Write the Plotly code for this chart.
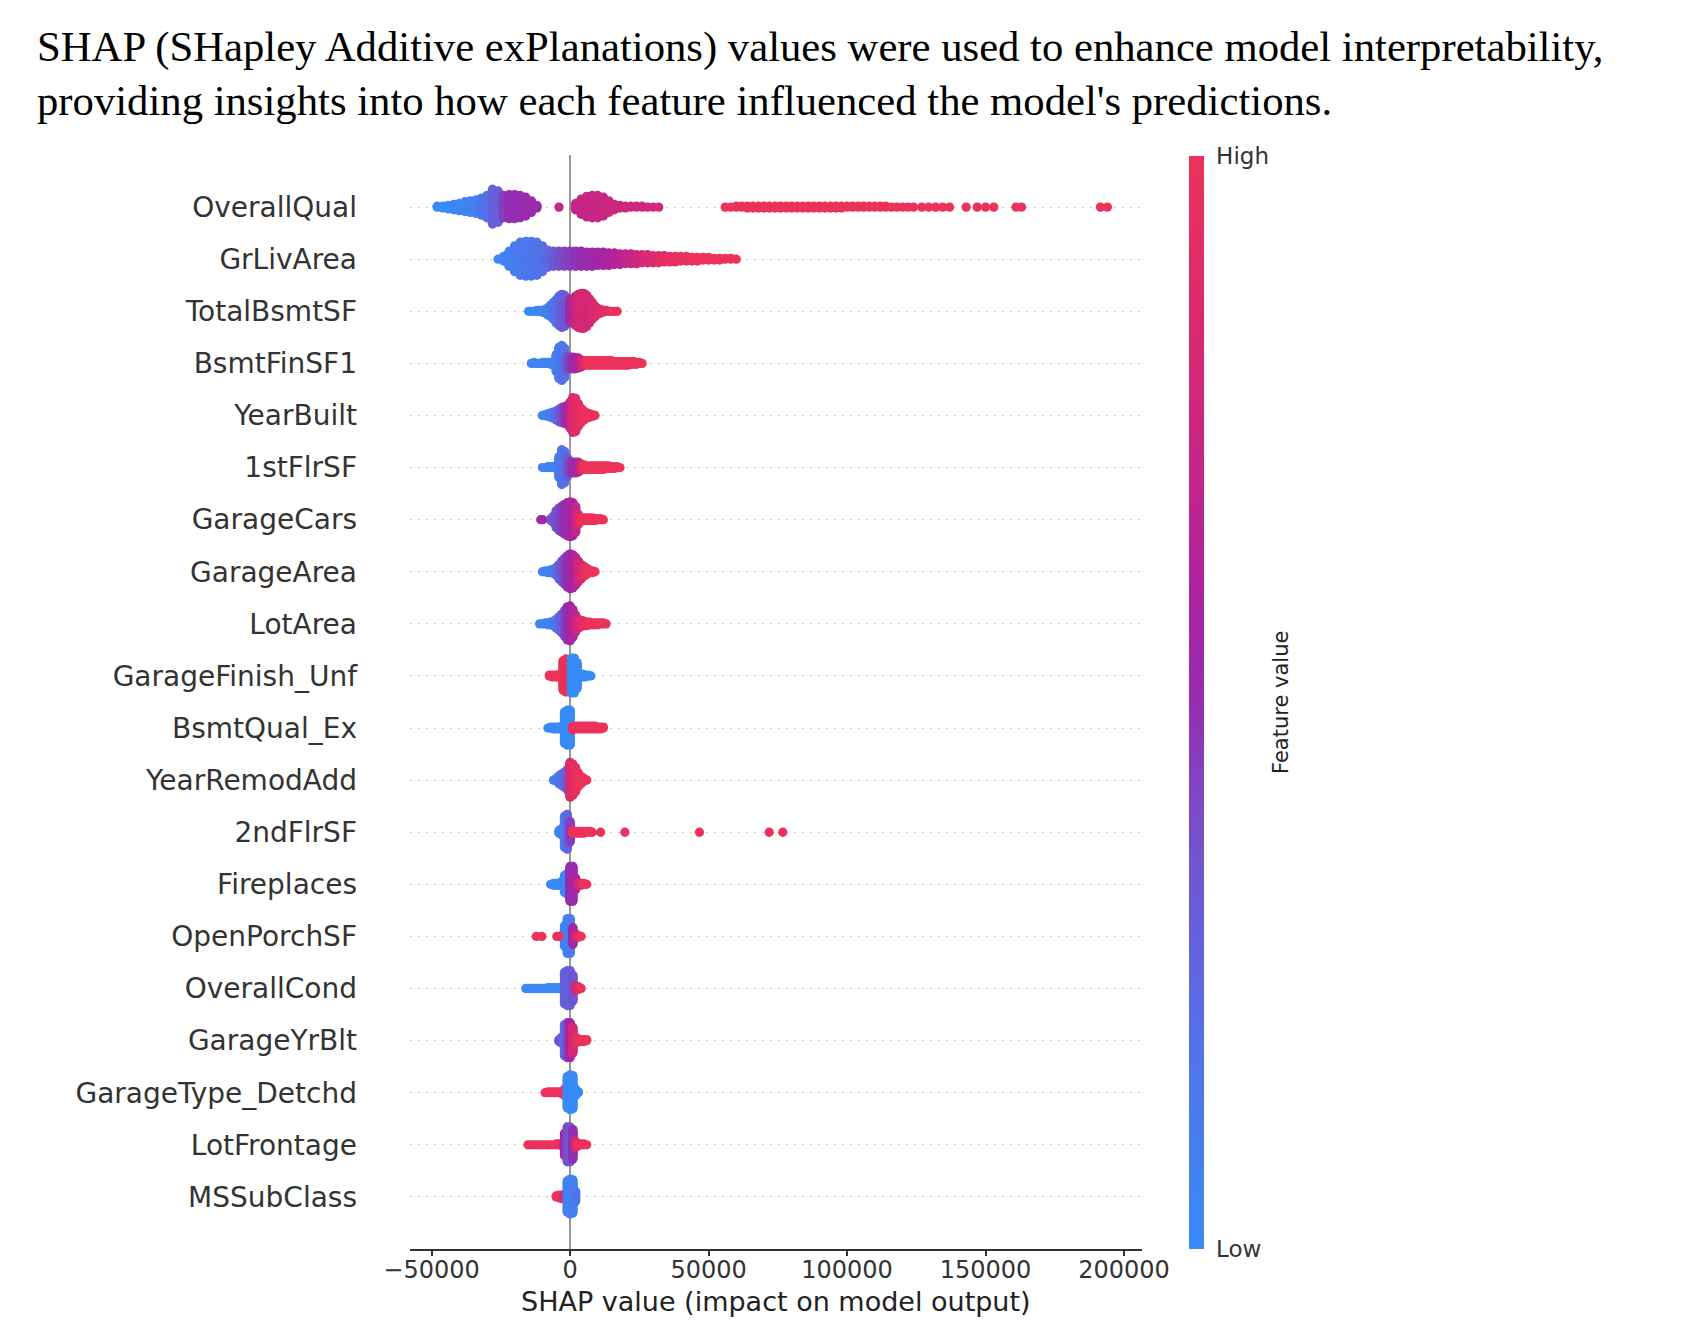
import math
import plotly.graph_objects as go

# ---------------- text ----------------
TITLE_LINES = [
    "SHAP (SHapley Additive exPlanations) values were used to enhance model interpretability,",
    "providing insights into how each feature influenced the model's predictions.",
]
X_LABEL = "SHAP value (impact on model output)"
CBAR_LABEL = "Feature value"
CBAR_TICKTEXT = ["Low", "High"]

FEATURES = ["OverallQual", "GrLivArea", "TotalBsmtSF", "BsmtFinSF1", "YearBuilt",
            "1stFlrSF", "GarageCars", "GarageArea", "LotArea", "GarageFinish_Unf",
            "BsmtQual_Ex", "YearRemodAdd", "2ndFlrSF", "Fireplaces", "OpenPorchSF",
            "OverallCond", "GarageYrBlt", "GarageType_Detchd", "LotFrontage", "MSSubClass"]

X_TICKS = [-50000, 0, 50000, 100000, 150000, 200000]
X_TICKTEXT = ["\u221250000", "0", "50000", "100000", "150000", "200000"]

# ---------------- data ----------------
# For each feature: first SHAP-bin centre, bin width, number of points per bin,
# normalised feature value per bin (0 = low, 1 = high), and isolated points.
OVQ_START, OVQ_STEP = -48000, 2000
OVQ_N = ([2, 3, 5, 7, 9, 12, 14, 16, 20, 26, 40, 36, 26, 28, 28, 26, 22, 14, 4]
         + [0, 0, 0, 1, 0, 0]
         + [8, 18, 24, 26, 26, 22, 14, 7, 4, 3, 2, 2, 2, 1, 1, 1]
         + [0] * 11
         + [1, 1, 2, 2] + [3] * 18 + [2] * 8 + [1] * 5)
OVQ_V = ([0.0, 0.0, 0.0, 0.02, 0.03, 0.05, 0.07, 0.1, 0.15, 0.2, 0.28, 0.3, 0.45, 0.5, 0.5, 0.5, 0.52, 0.52, 0.52]
         + [0, 0, 0, 0.7, 0, 0]
         + [0.72, 0.72, 0.73, 0.73, 0.74, 0.74, 0.75, 0.75, 0.76, 0.76, 0.76, 0.77, 0.77, 0.78, 0.78, 0.78]
         + [0] * 11
         + [1.0] * 35)
OVQ_SX = [127000, 129500, 132000, 134500, 137000, 143000, 147000, 150000, 153000, 161000, 163000, 191500, 194000]
OVQ_SV = [1.0] * 13

GLA_START, GLA_STEP = -26000, 2000
GLA_N = [1, 6, 18, 30, 38, 40, 40, 38, 30, 20,
         18, 18, 18, 18, 18, 18, 17, 17, 16, 16, 15,
         14, 13, 12, 12, 11, 10, 10, 9, 9, 8,
         7, 7, 6, 6, 5, 5, 4, 4, 3, 3, 2, 2, 1]
GLA_V = [0.05, 0.05, 0.08, 0.1, 0.12, 0.14, 0.15, 0.17, 0.2, 0.25, 0.32, 0.38, 0.42, 0.45, 0.48,
         0.5, 0.52, 0.54, 0.56, 0.58, 0.6, 0.63, 0.66, 0.7, 0.73, 0.76, 0.8, 0.83, 0.86, 0.89, 0.92,
         0.95, 0.96, 0.97, 0.98, 0.99, 1, 1, 1, 1, 1, 1, 1, 1]
GLA_SX, GLA_SV = [], []

TBS_START, TBS_STEP = -15000, 1000
TBS_N = [1, 1, 1, 2, 2, 3, 5, 9, 14, 20, 27, 34, 38, 36, 30, 26, 28, 34, 38, 40, 40, 36, 28, 20,
         13, 7, 5, 3, 2, 1, 1, 1, 1]
TBS_V = [0.0, 0.0, 0.02, 0.03, 0.04, 0.05, 0.06, 0.08, 0.1, 0.15, 0.2, 0.25, 0.3, 0.32, 0.35, 0.5,
         0.65, 0.72, 0.78, 0.8, 0.82, 0.8, 0.8, 0.82, 0.84, 0.86, 0.88, 0.9, 0.92, 0.95, 0.97, 1.0, 1.0]
TBS_SX, TBS_SV = [], []

BF1_START, BF1_STEP = -14000, 1000
BF1_N = [1, 2, 1, 1, 2, 2, 2, 3, 4, 20, 36, 40, 34, 16, 14, 14, 13, 12, 9, 6,
         6, 6, 6, 6, 6, 6, 6, 6, 6, 6, 5, 5, 5, 5, 5, 5, 4, 4, 3, 2, 1]
BF1_V = [0.05] * 9 + [0.1, 0.12, 0.15, 0.2, 0.35, 0.45, 0.5, 0.55, 0.62, 0.75, 0.85] + [1.0] * 21
BF1_SX, BF1_SV = [], []

YB_START, YB_STEP = -10000, 1000
YB_N = [1, 2, 4, 6, 8, 11, 15, 18, 20, 22, 30, 40, 38, 26, 17, 11, 7, 5, 3, 1]
YB_V = [0.05, 0.05, 0.08, 0.1, 0.15, 0.2, 0.3, 0.38, 0.45, 0.55, 0.7, 0.85, 0.9, 0.92, 0.95,
        1, 1, 1, 1, 1]
YB_SX, YB_SV = [], []

F1_START, F1_STEP = -10000, 1000
F1_N = [1, 1, 2, 2, 2, 4, 24, 40, 36, 22, 14, 13, 13, 12, 8, 6, 5, 5, 5, 5, 5, 5, 5, 4, 4, 3, 3, 2, 1]
F1_V = [0.05] * 6 + [0.12, 0.15, 0.2, 0.3, 0.45, 0.5, 0.55, 0.62, 0.8] + [1.0] * 14
F1_SX, F1_SV = [], []

GC_START, GC_STEP = -7000, 1000
GC_N = [3, 8, 20, 26, 30, 34, 38, 40, 38, 30, 12, 5, 4, 4, 4, 4, 3, 2, 2, 1]
GC_V = [0.3, 0.32, 0.35, 0.4, 0.45, 0.5, 0.52, 0.55, 0.6, 0.7, 0.85] + [1.0] * 9
GC_SX = [-10600, -9900]
GC_SV = [0.55, 0.55]

GA_START, GA_STEP = -10000, 1000
GA_N = [1, 2, 3, 4, 6, 10, 17, 24, 30, 36, 40, 38, 32, 24, 17, 12, 8, 4, 3, 1]
GA_V = [0.02, 0.03, 0.05, 0.08, 0.1, 0.18, 0.28, 0.35, 0.42, 0.48, 0.52, 0.58, 0.65, 0.75, 0.85,
        0.9, 0.95, 1, 1, 1]
GA_SX, GA_SV = [], []

LA_START, LA_STEP = -11000, 1000
LA_N = [1, 1, 2, 3, 4, 6, 11, 16, 22, 30, 38, 40, 32, 20, 11, 8, 6, 5, 4, 3, 3, 3, 2, 2, 1]
LA_V = [0.02, 0.03, 0.05, 0.06, 0.08, 0.1, 0.15, 0.22, 0.3, 0.4, 0.48, 0.55, 0.62, 0.72, 0.82,
        0.88, 0.92, 0.96] + [1.0] * 7
LA_SX, LA_SV = [], []

GFU_START, GFU_STEP = -7500, 1000
GFU_N = [2, 3, 3, 3, 5, 34, 38, 36, 40, 40, 30, 5, 4, 3, 2, 1]
GFU_V = [1.0] * 8 + [0.0] * 8
GFU_SX, GFU_SV = [], []

BQE_START, BQE_STEP = -8000, 1000
BQE_N = [1, 2, 3, 3, 3, 4, 36, 40, 40, 5, 4, 4, 4, 4, 4, 4, 4, 4, 3, 3, 2]
BQE_V = [0.0] * 9 + [1.0] * 12
BQE_SX, BQE_SV = [], []

YRA_START, YRA_STEP = -6000, 1000
YRA_N = [1, 4, 10, 14, 18, 24, 40, 36, 28, 16, 9, 4, 1]
YRA_V = [0.1, 0.12, 0.15, 0.2, 0.25, 0.3, 0.85, 0.9, 0.95, 1, 1, 1, 1]
YRA_SX, YRA_SV = [], []

F2_START, F2_STEP = -4000, 1000
F2_N = [4, 8, 36, 40, 24, 4, 3, 3, 3, 3, 2, 2, 1]
F2_V = [0.05, 0.08, 0.1, 0.25, 0.45] + [1.0] * 8
F2_SX = [11000, 19800, 46700, 71900, 76800]
F2_SV = [1.0] * 5

FP_START, FP_STEP = -7000, 1000
FP_N = [1, 3, 3, 3, 6, 20, 24, 40, 40, 14, 4, 3, 2, 1]
FP_V = [0.02] * 7 + [0.5, 0.52, 0.6, 0.8, 0.9, 1, 1]
FP_SX, FP_SV = [], []

OPS_START, OPS_STEP = -3000, 1000
OPS_N = [3, 24, 40, 40, 20, 6, 3, 1]
OPS_V = [0.4, 0.05, 0.05, 0.1, 0.55, 0.75, 0.9, 1.0]
OPS_SX = [-12200, -10200, -4800, -4000]
OPS_SV = [1.0] * 4

OC_START, OC_STEP = -16000, 1000
OC_N = [1, 1, 1, 1, 1, 1, 1, 1, 2, 2, 2, 2, 2, 3, 36, 40, 40, 30, 6, 4, 1]
OC_V = [0.02] * 14 + [0.28, 0.3, 0.3, 0.35, 0.8, 0.9, 1.0]
OC_SX, OC_SV = [], []

GYB_START, GYB_STEP = -4000, 1000
GYB_N = [3, 8, 36, 40, 40, 30, 8, 4, 3, 3, 2]
GYB_V = [0.4, 0.3, 0.2, 0.4, 0.6, 0.8, 0.95, 1, 1, 1, 1]
GYB_SX, GYB_SV = [], []

GTD_START, GTD_STEP = -9000, 1000
GTD_N = [1, 2, 2, 2, 2, 2, 3, 8, 36, 40, 38, 8, 2]
GTD_V = [1.0] * 8 + [0.0] * 5
GTD_SX, GTD_SV = [], []

LF_START, LF_STEP = -5000, 1000
LF_N = [2, 2, 3, 26, 40, 40, 34, 8, 3, 2, 2, 1]
LF_V = [1.0, 1.0, 0.9, 0.55, 0.4, 0.35, 0.5, 0.85, 1, 1, 1, 1]
LF_SX = [-15200, -14000, -13000, -11800, -10800, -9600, -8400, -7400, -6400]
LF_SV = [1.0] * 9

MSC_START, MSC_STEP = -5000, 1000
MSC_N = [2, 4, 5, 6, 36, 40, 38, 12]
MSC_V = [1.0, 1.0, 0.95, 0.85, 0.1, 0.05, 0.08, 0.15]
MSC_SX, MSC_SV = [], []

SPEC = {
    "OverallQual": (OVQ_START, OVQ_STEP, OVQ_N, OVQ_V, OVQ_SX, OVQ_SV),
    "GrLivArea": (GLA_START, GLA_STEP, GLA_N, GLA_V, GLA_SX, GLA_SV),
    "TotalBsmtSF": (TBS_START, TBS_STEP, TBS_N, TBS_V, TBS_SX, TBS_SV),
    "BsmtFinSF1": (BF1_START, BF1_STEP, BF1_N, BF1_V, BF1_SX, BF1_SV),
    "YearBuilt": (YB_START, YB_STEP, YB_N, YB_V, YB_SX, YB_SV),
    "1stFlrSF": (F1_START, F1_STEP, F1_N, F1_V, F1_SX, F1_SV),
    "GarageCars": (GC_START, GC_STEP, GC_N, GC_V, GC_SX, GC_SV),
    "GarageArea": (GA_START, GA_STEP, GA_N, GA_V, GA_SX, GA_SV),
    "LotArea": (LA_START, LA_STEP, LA_N, LA_V, LA_SX, LA_SV),
    "GarageFinish_Unf": (GFU_START, GFU_STEP, GFU_N, GFU_V, GFU_SX, GFU_SV),
    "BsmtQual_Ex": (BQE_START, BQE_STEP, BQE_N, BQE_V, BQE_SX, BQE_SV),
    "YearRemodAdd": (YRA_START, YRA_STEP, YRA_N, YRA_V, YRA_SX, YRA_SV),
    "2ndFlrSF": (F2_START, F2_STEP, F2_N, F2_V, F2_SX, F2_SV),
    "Fireplaces": (FP_START, FP_STEP, FP_N, FP_V, FP_SX, FP_SV),
    "OpenPorchSF": (OPS_START, OPS_STEP, OPS_N, OPS_V, OPS_SX, OPS_SV),
    "OverallCond": (OC_START, OC_STEP, OC_N, OC_V, OC_SX, OC_SV),
    "GarageYrBlt": (GYB_START, GYB_STEP, GYB_N, GYB_V, GYB_SX, GYB_SV),
    "GarageType_Detchd": (GTD_START, GTD_STEP, GTD_N, GTD_V, GTD_SX, GTD_SV),
    "LotFrontage": (LF_START, LF_STEP, LF_N, LF_V, LF_SX, LF_SV),
    "MSSubClass": (MSC_START, MSC_STEP, MSC_N, MSC_V, MSC_SX, MSC_SV),
}

# ---------------- beeswarm layout (as in shap.summary_plot) ----------------
ROW_HEIGHT = 0.4
xs, ys, cs = [], [], []
nfeat = len(FEATURES)
for idx, name in enumerate(FEATURES):
    start, step, N, V, SX, SV = SPEC[name]
    pos = nfeat - 1 - idx
    px, pv, pl = [], [], []
    for i, (n, v) in enumerate(zip(N, V)):
        xc = start + i * step
        for k in range(n):
            px.append(xc)
            pv.append(v)
            pl.append(math.ceil(k / 2) * ((k % 2) * 2 - 1))
    for x, v in zip(SX, SV):
        px.append(x)
        pv.append(v)
        pl.append(0)
    scale = 0.9 * ROW_HEIGHT / (max(pl) + 1)
    for x, v, l in zip(px, pv, pl):
        xs.append(x)
        ys.append(pos + l * scale)
        cs.append(v)

COLORSCALE = [
    [0.0, "rgb(56,139,246)"],
    [0.2, "rgb(86,112,232)"],
    [0.4, "rgb(122,76,200)"],
    [0.5, "rgb(148,46,176)"],
    [0.6, "rgb(172,35,160)"],
    [0.8, "rgb(212,40,118)"],
    [1.0, "rgb(236,50,90)"],
]

# ---------------- geometry (page pixels; the page body has an 8px margin) ----------------
PAGE_OFF = 8
W, H = 1684 - 2 * PAGE_OFF, 1340 - 2 * PAGE_OFF
L, R, T, B = 410, 1142, 155, 1249
PW, PH = R - L, B - T


def px_x(p):
    return (p - L) / PW


def px_y(p):
    return 1 - (p - T) / PH


fig = go.Figure()
fig.add_trace(go.Scatter(
    x=xs, y=ys, mode="markers", hoverinfo="skip",
    marker=dict(size=9.3, color=cs, colorscale=COLORSCALE, cmin=0, cmax=1,
                line=dict(width=0), opacity=1,
                colorbar=dict(
                    x=px_x(1189), xanchor="left", xref="paper",
                    y=px_y((156 + 1249) / 2), yanchor="middle",
                    thickness=15, len=1093, lenmode="pixels",
                    xpad=0, ypad=0, outlinewidth=0,
                    tickvals=[0, 1], ticktext=CBAR_TICKTEXT,
                    ticks="outside", ticklen=8, tickcolor="rgba(0,0,0,0)",
                    tickfont=dict(family="DejaVu Sans", size=23, color="#333333"),
                )),
    showlegend=False,
))

fig.update_layout(
    width=W, height=H,
    margin=dict(l=L - PAGE_OFF, r=W - (R - PAGE_OFF), t=T - PAGE_OFF, b=H - (B - PAGE_OFF), pad=0),
    paper_bgcolor="white", plot_bgcolor="white",
    font=dict(family="DejaVu Sans", color="#333333"),
    xaxis=dict(
        range=[-57800, 206500], showgrid=False,
        zeroline=True, zerolinecolor="#999999", zerolinewidth=2,
        showline=True, linecolor="#333333", linewidth=1.5,
        ticks="outside", ticklen=5, tickwidth=1.5, tickcolor="#333333",
        ticklabelstandoff=-7,
        tickvals=X_TICKS, ticktext=X_TICKTEXT,
        tickfont=dict(family="DejaVu Sans", size=24, color="#333333"),
    ),
    yaxis=dict(
        range=[-1, nfeat], zeroline=False, showline=False,
        tickvals=list(range(nfeat)), ticktext=FEATURES[::-1],
        showgrid=True, gridcolor="#cccccc", gridwidth=1, griddash="2px,6px",
        ticks="", ticklabelstandoff=52,
        tickfont=dict(family="DejaVu Sans", size=28, color="#333333"),
    ),
    annotations=[
        dict(text=TITLE_LINES[0], xref="paper", yref="paper", x=px_x(35), y=px_y(47),
             xanchor="left", yanchor="middle", showarrow=False,
             font=dict(family="Liberation Serif", size=42.7, color="black")),
        dict(text=TITLE_LINES[1], xref="paper", yref="paper", x=px_x(35), y=px_y(101),
             xanchor="left", yanchor="middle", showarrow=False,
             font=dict(family="Liberation Serif", size=42.7, color="black")),
        dict(text=X_LABEL, xref="paper", yref="paper", x=0.5, y=px_y(1301),
             xanchor="center", yanchor="middle", showarrow=False,
             font=dict(family="DejaVu Sans", size=27, color="#222222")),
        dict(text=CBAR_LABEL, xref="paper", yref="paper", x=px_x(1281), y=px_y(703),
             xanchor="center", yanchor="middle", showarrow=False, textangle=-90,
             font=dict(family="DejaVu Sans", size=21, color="#222222")),
    ],
)

fig.write_html("out.html")
